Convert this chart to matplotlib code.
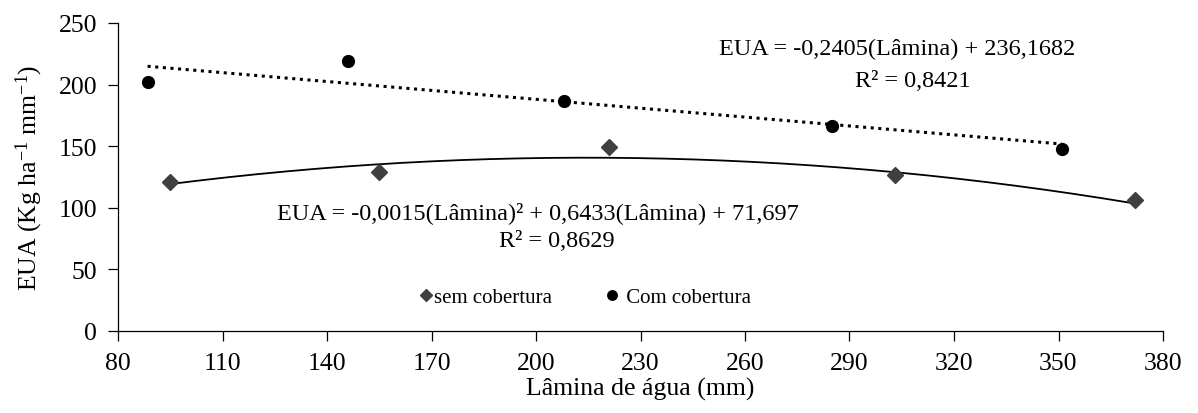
import matplotlib
matplotlib.use('Agg')
import matplotlib.pyplot as plt
import numpy as np

# data
lamina_sem = [95, 155, 221, 303, 372]
eua_sem = [121, 129, 149, 127, 106]
lamina_com = [88.5, 146, 208, 285, 351]
eua_com = [202, 219, 187, 166, 148]

# trendline coefficients shown on the chart
quad_coef = [-0.0015, 0.6433, 71.697]
lin_coef = [-0.2405, 236.1682]

x_ticks = [80, 110, 140, 170, 200, 230, 260, 290, 320, 350, 380]
y_ticks = [0, 50, 100, 150, 200, 250]

plt.rcParams['font.family'] = ['Liberation Serif', 'DejaVu Serif']
plt.rcParams['mathtext.fontset'] = 'custom'
plt.rcParams['mathtext.rm'] = 'Liberation Serif'
plt.rcParams['mathtext.it'] = 'Liberation Serif:italic'
plt.rcParams['mathtext.bf'] = 'Liberation Serif:bold'

fig = plt.figure(figsize=(11.98, 4.14), dpi=100)
ax = fig.add_axes([118 / 1198, 1 - 332 / 414, 1045 / 1198, 308 / 414])

# trend lines
xq = np.linspace(min(lamina_sem), max(lamina_sem), 200)
ax.plot(xq, np.polyval(quad_coef, xq), color='black', lw=1.3, zorder=2)
xl = np.linspace(min(lamina_com), max(lamina_com), 200)
ax.plot(xl, np.polyval(lin_coef, xl), color='black', lw=2.2,
        linestyle=(0, (1, 1.5)), zorder=2)

# points
ax.plot(lamina_sem, eua_sem, 'D', color='#404040', ms=8, ls='none',
        label='sem cobertura', zorder=3)
ax.plot(lamina_com, eua_com, 'o', color='black', ms=8.5, ls='none',
        label=' Com cobertura', zorder=3)

ax.set_xlim(80, 380)
ax.set_ylim(0, 250)
ax.set_xticks(x_ticks)
ax.set_yticks(y_ticks)
ax.spines['top'].set_visible(False)
ax.spines['right'].set_visible(False)
for s in ['left', 'bottom']:
    ax.spines[s].set_linewidth(0.9)
ax.tick_params(direction='out', length=7, width=0.9, labelsize=18.5, pad=8)

ax.set_xlabel('Lâmina de água (mm)', fontsize=18.5, labelpad=2)
ax.set_ylabel('EUA (Kg ha$^{-1}$ mm$^{-1}$)', fontsize=18.5, labelpad=10)

# equations
ax.text(0.575, 0.918, 'EUA = -0,2405(Lâmina) + 236,1682', transform=ax.transAxes,
        fontsize=17.5, ha='left', va='center')
ax.text(0.705, 0.812, 'R² = 0,8421', transform=ax.transAxes,
        fontsize=17.5, ha='left', va='center')
ax.text(0.152, 0.385, 'EUA = -0,0015(Lâmina)² + 0,6433(Lâmina) + 71,697',
        transform=ax.transAxes, fontsize=17.5, ha='left', va='center')
ax.text(0.365, 0.295, 'R² = 0,8629', transform=ax.transAxes,
        fontsize=17.5, ha='left', va='center')

ax.legend(loc='center', bbox_to_anchor=(0.447, 0.11), ncol=2, frameon=False,
          fontsize=15, markerscale=0.8, handlelength=0.6, handletextpad=0.1,
          columnspacing=2.6)

plt.savefig('out.png', dpi=100)
